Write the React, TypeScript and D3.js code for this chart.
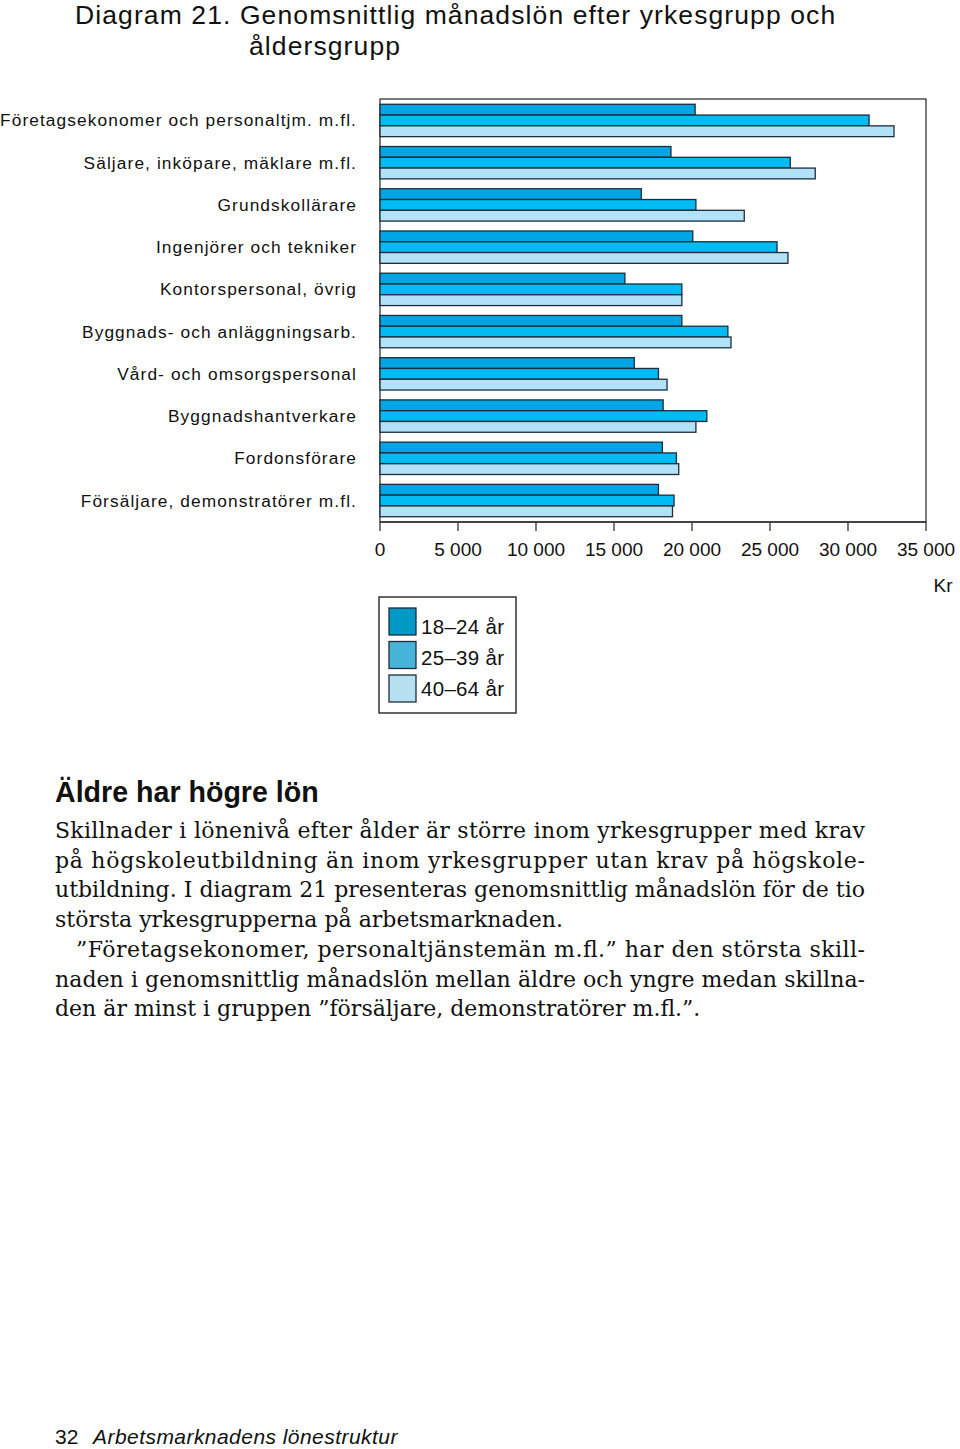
import React from "react";
import * as d3 from "d3";

const categories = [
  "Företagsekonomer och personaltjm. m.fl.",
  "Säljare, inköpare, mäklare m.fl.",
  "Grundskollärare",
  "Ingenjörer och tekniker",
  "Kontorspersonal, övrig",
  "Byggnads- och anläggningsarb.",
  "Vård- och omsorgspersonal",
  "Byggnadshantverkare",
  "Fordonsförare",
  "Försäljare, demonstratörer m.fl.",
];

const seriesNames = ["18–24 år", "25–39 år", "40–64 år"];
const age18_24 = [20200, 18650, 16750, 20050, 15700, 19350, 16300, 18150, 18100, 17850];
const age25_39 = [31350, 26300, 20250, 25450, 19350, 22300, 17850, 20950, 19000, 18850];
const age40_64 = [32950, 27900, 23350, 26150, 19350, 22500, 18400, 20250, 19150, 18750];
const xTicks = [0, 5000, 10000, 15000, 20000, 25000, 30000, 35000];

const barColors = ["#00a6e3", "#00bcf2", "#b2e2f8"];
const legendColors = ["#0099c6", "#46b4d8", "#b6e0f0"];

const titleLines = ["Diagram 21. Genomsnittlig månadslön efter yrkesgrupp och", "åldersgrupp"];
const heading = "Äldre har högre lön";
const paragraph1 = [
  "Skillnader i lönenivå efter ålder är större inom yrkesgrupper med krav",
  "på högskoleutbildning än inom yrkesgrupper utan krav på högskole-",
  "utbildning. I diagram 21 presenteras genomsnittlig månadslön för de tio",
  "största yrkesgrupperna på arbetsmarknaden.",
];
const paragraph2 = [
  "”Företagsekonomer, personaltjänstemän m.fl.” har den största skill-",
  "naden i genomsnittlig månadslön mellan äldre och yngre medan skillna-",
  "den är minst i gruppen ”försäljare, demonstratörer m.fl.”.",
];
const footerNumber = "32";
const footerText = "Arbetsmarknadens lönestruktur";

const SANS = "'Liberation Sans', Arial, sans-serif";
const SERIF = "'DejaVu Serif', serif";

export default function App() {
  const left = 380, right = 926, top = 99, bottom = 522;
  const series = [age18_24, age25_39, age40_64];

  const x = d3.scaleLinear().domain([0, 35000]).range([left, right]);
  const y = d3.scaleBand<string>().domain(categories).range([top, bottom]).paddingInner(0.234).paddingOuter(0.125);
  const ySub = d3.scaleBand<number>().domain([0, 1, 2]).range([0, y.bandwidth()]);

  const fmt = d3.formatLocale({ decimal: ",", thousands: " ", grouping: [3], currency: ["", " kr"] }).format(",");

  const textLeft = 55, textRight = 865, indent = 76;
  const lineStep = 29.7;
  const bodyTop = 838;

  const allLines: { text: string; x: number; justify: boolean }[] = [];
  paragraph1.forEach((t, i) => allLines.push({ text: t, x: textLeft, justify: i < paragraph1.length - 1 }));
  paragraph2.forEach((t, i) => allLines.push({ text: t, x: i === 0 ? indent : textLeft, justify: i < paragraph2.length - 1 }));

  return (
    <svg width={960} height={1449} style={{ position: "absolute", left: 0, top: 0, background: "#fff" }}>
      <rect x={0} y={0} width={960} height={1449} fill="#fff" />
      {/* Title */}
      <g fontFamily={SANS} fontSize={26.5} fill="#111" letterSpacing={1.1}>
        <text x={75} y={24}>{titleLines[0]}</text>
        <text x={249} y={55}>{titleLines[1]}</text>
      </g>

      {/* Frame */}
      <rect x={left} y={top} width={right - left} height={bottom - top} fill="none" stroke="#333" strokeWidth={1.3} />

      {/* Bars */}
      {categories.map((c, i) => (
        <g key={c}>
          {series.map((s, k) => (
            <rect
              key={k}
              x={x(0)}
              y={(y(c) as number) + (ySub(k) as number)}
              width={x(s[i]) - x(0)}
              height={ySub.bandwidth()}
              fill={barColors[k]}
              stroke="#1e2d3b"
              strokeWidth={1.3}
            />
          ))}
        </g>
      ))}

      {/* Y labels */}
      <g fontFamily={SANS} fontSize={17.3} fill="#111" letterSpacing={1.1} textAnchor="end">
        {categories.map((c) => (
          <text key={c} x={357} y={(y(c) as number) + y.bandwidth() / 2 + 6}>{c}</text>
        ))}
      </g>

      {/* X axis */}
      <line x1={left} x2={right} y1={bottom} y2={bottom} stroke="#333" strokeWidth={1.5} />
      {xTicks.map((t) => (
        <g key={t}>
          <line x1={x(t)} x2={x(t)} y1={bottom} y2={bottom + 9} stroke="#333" strokeWidth={1.3} />
          <text x={x(t)} y={556} textAnchor="middle" fontFamily={SANS} fontSize={19} fill="#111">{fmt(t)}</text>
        </g>
      ))}
      <text x={943} y={592} textAnchor="middle" fontFamily={SANS} fontSize={19} fill="#111">Kr</text>

      {/* Legend */}
      <rect x={379} y={597} width={137} height={116} fill="#fff" stroke="#333" strokeWidth={1.5} />
      {seriesNames.map((n, k) => (
        <g key={n}>
          <rect x={389} y={608 + k * 33.5} width={27} height={27} fill={legendColors[k]} stroke="#1e2d3b" strokeWidth={1.3} />
          <text x={421} y={634 + k * 31} fontFamily={SANS} fontSize={20.5} fill="#111" letterSpacing={0.3}>{n}</text>
        </g>
      ))}

      {/* Heading */}
      <text x={55} y={802} fontFamily={SANS} fontWeight="bold" fontSize={28.6} fill="#111">{heading}</text>

      {/* Body */}
      <g fontFamily={SERIF} fontSize={22} fill="#111">
        {allLines.map((l, i) => (
          <text
            key={i}
            x={l.x}
            y={bodyTop + i * lineStep}
            {...(l.justify ? { textLength: textRight - l.x, lengthAdjust: "spacing" } : {})}
          >
            {l.text}
          </text>
        ))}
      </g>

      {/* Footer */}
      <text x={55} y={1444} fontFamily={SANS} fontSize={21} fill="#111">{footerNumber}</text>
      <text x={93} y={1444} fontFamily={SANS} fontStyle="italic" fontSize={21} fill="#111" letterSpacing={0.45}>{footerText}</text>
    </svg>
  );
}
